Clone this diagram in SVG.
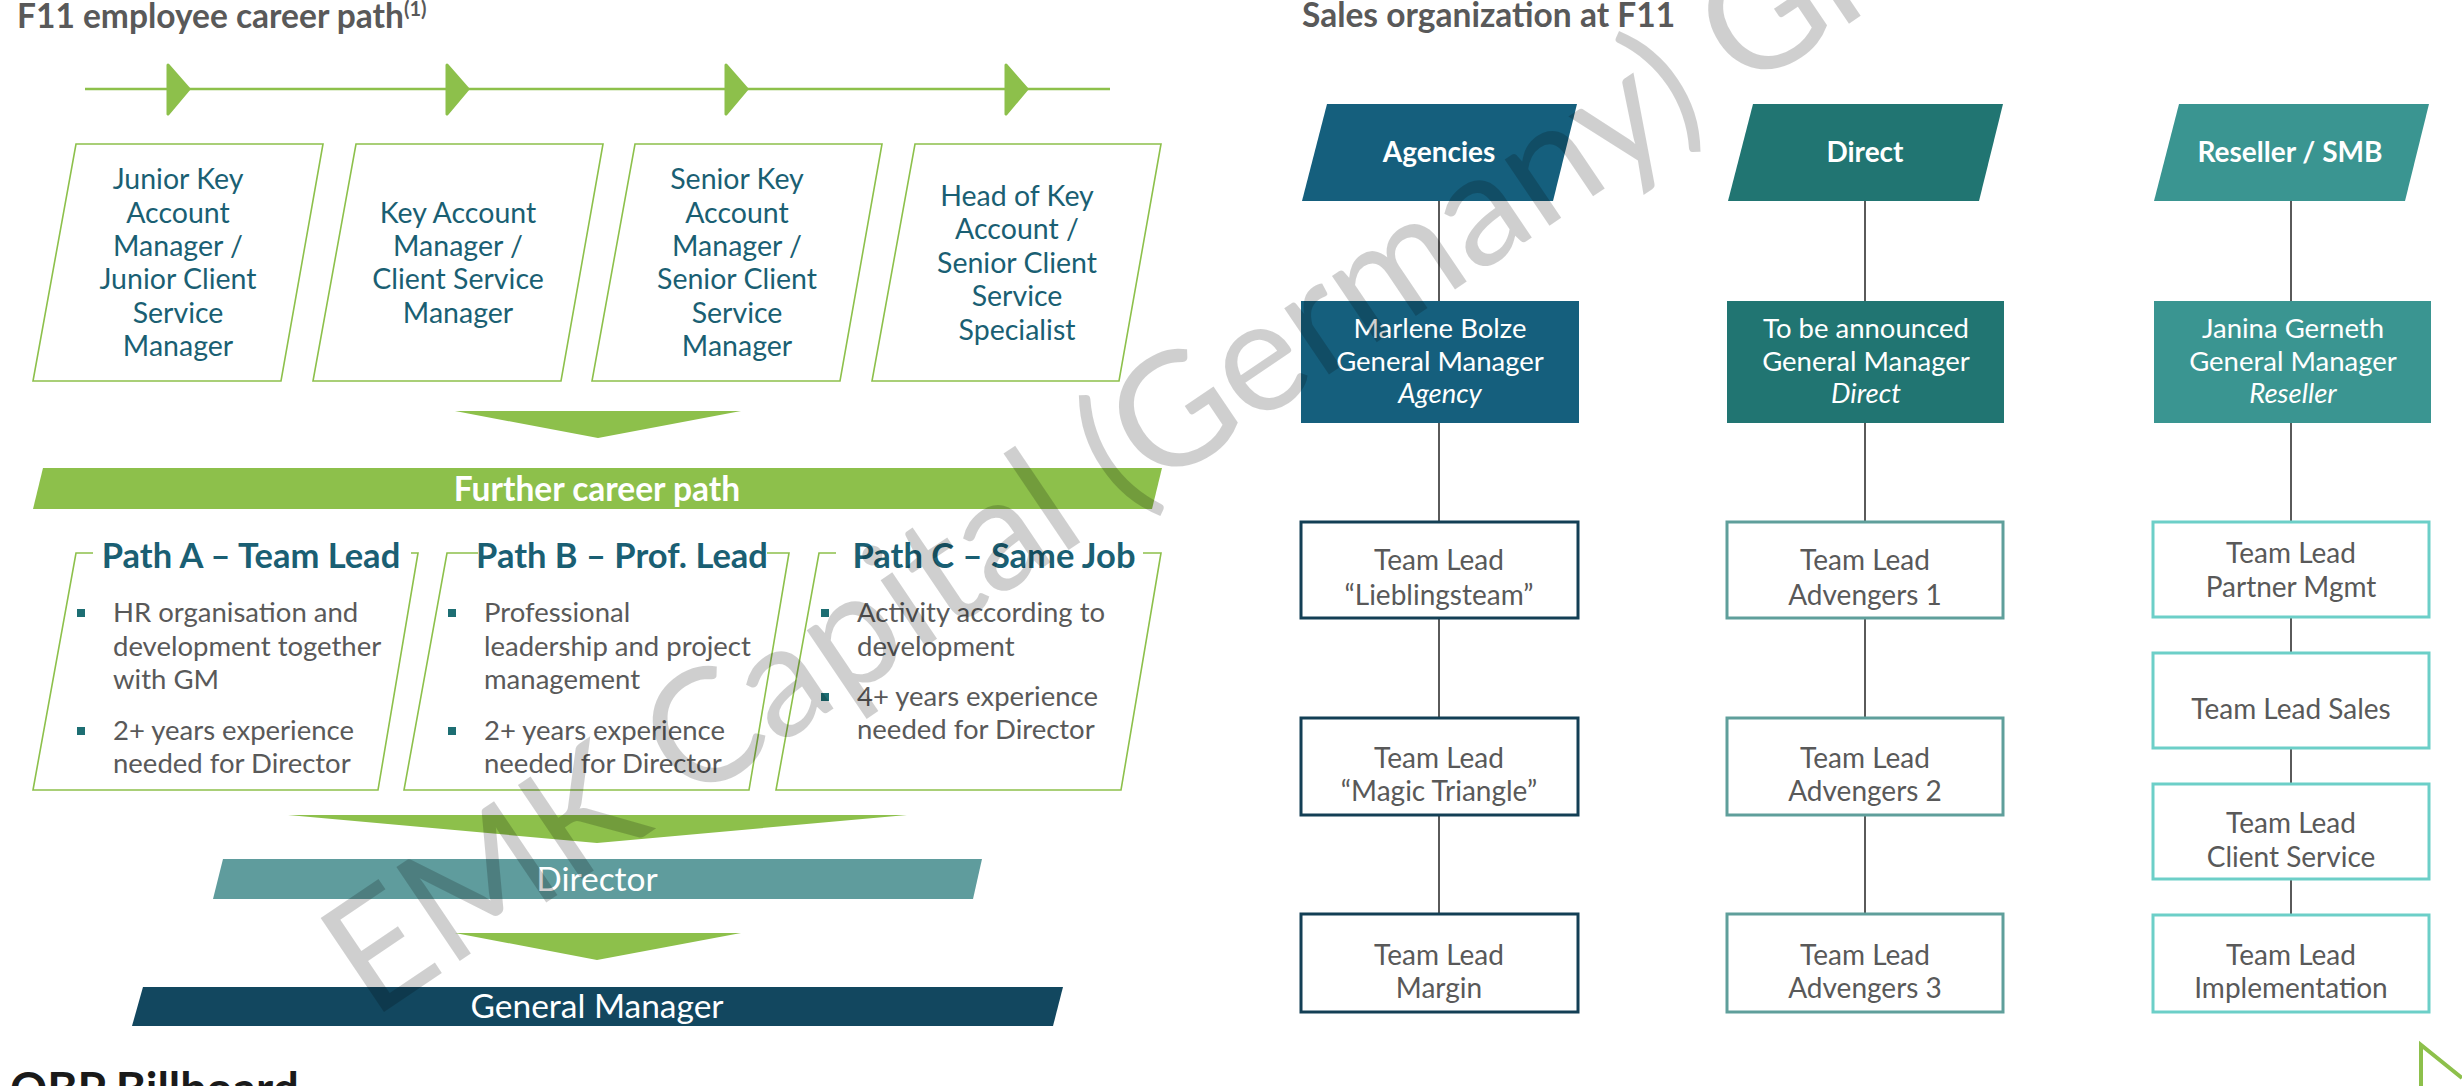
<svg xmlns="http://www.w3.org/2000/svg" width="2462" height="1086" viewBox="0 0 2462 1086">
<style>
text{font-family:Lato,"Open Sans","Liberation Sans",sans-serif}
.title{font-size:33.5px;font-weight:bold;fill:#595959}
.green{fill:#8dc04b}
.arrow{fill:#8dc04b;stroke:#8dc04b;stroke-width:3;stroke-linejoin:round}
.step{fill:#fff;stroke:#8dc04b;stroke-width:1.6}
.steptxt{font-size:28.5px;fill:#1a5f73;text-anchor:middle}
.pathbox{fill:none;stroke:#8dc04b;stroke-width:1.6}
.pathhd{font-size:34.5px;font-weight:bold;fill:#1a5f73;text-anchor:middle}
.bul{fill:#1d6e73}
.bultxt{font-size:27.5px;fill:#595959}
.bantxt{font-size:33.5px;fill:#fff;text-anchor:middle}
.hdtxt{font-size:28px;font-weight:bold;fill:#fff;text-anchor:middle}
.gmtxt{font-size:27.5px;fill:#fff;text-anchor:middle}
.tl{fill:#fff;stroke-width:3}
.tltxt{font-size:28px;fill:#595959;text-anchor:middle}
.conn{stroke:#5a5a5a;stroke-width:2}
</style>

<!-- LEFT: career path -->
<text class="title" x="17" y="28">F11 employee career path<tspan font-size="20" dy="-12">(1)</tspan></text>

<g id="timeline">
  <line x1="85" y1="89" x2="1110" y2="89" stroke="#8dc04b" stroke-width="2.5"/>
  <polygon class="arrow" points="168,65 189,89 168,114"/>
  <polygon class="arrow" points="447,65 468,89 447,114"/>
  <polygon class="arrow" points="726,65 747,89 726,114"/>
  <polygon class="arrow" points="1006,65 1027,89 1006,114"/>
</g>

<g id="step1">
  <polygon class="step" points="76,144 323,144 281,381 33,381"/>
  <text class="steptxt"><tspan x="178" y="189">Junior Key</tspan><tspan x="178" y="223">Account</tspan><tspan x="178" y="256">Manager /</tspan><tspan x="178" y="289">Junior Client</tspan><tspan x="178" y="323">Service</tspan><tspan x="178" y="356">Manager</tspan></text>
</g>
<g id="step2">
  <polygon class="step" points="356,144 603,144 561,381 313,381"/>
  <text class="steptxt"><tspan x="458" y="223">Key Account</tspan><tspan x="458" y="256">Manager /</tspan><tspan x="458" y="289">Client Service</tspan><tspan x="458" y="323">Manager</tspan></text>
</g>
<g id="step3">
  <polygon class="step" points="635,144 882,144 840,381 592,381"/>
  <text class="steptxt"><tspan x="737" y="189">Senior Key</tspan><tspan x="737" y="223">Account</tspan><tspan x="737" y="256">Manager /</tspan><tspan x="737" y="289">Senior Client</tspan><tspan x="737" y="323">Service</tspan><tspan x="737" y="356">Manager</tspan></text>
</g>
<g id="step4">
  <polygon class="step" points="915,144 1161,144 1119,381 872,381"/>
  <text class="steptxt"><tspan x="1017" y="206">Head of Key</tspan><tspan x="1017" y="239">Account /</tspan><tspan x="1017" y="273">Senior Client</tspan><tspan x="1017" y="306">Service</tspan><tspan x="1017" y="340">Specialist</tspan></text>
</g>

<g id="down1"><polygon class="green" points="455,411 741,411 598,438"/></g>

<g id="further">
  <polygon class="green" points="43,468 1162,468 1152,509 33,509"/>
  <text class="bantxt" x="597" y="501" font-weight="bold">Further career path</text>
</g>

<g id="pathA">
  <path class="pathbox" d="M411,553 L418,553 L378,790 L33,790 L76,553 L93,553"/>
  <text class="pathhd" x="251" y="568">Path A – Team Lead</text>
  <rect class="bul" x="77" y="609" width="8" height="8"/>
  <rect class="bul" x="77" y="727" width="8" height="8"/>
  <text class="bultxt"><tspan x="113" y="622">HR organisation and</tspan><tspan x="113" y="656">development together</tspan><tspan x="113" y="689">with GM</tspan><tspan x="113" y="740">2+ years experience</tspan><tspan x="113" y="773">needed for Director</tspan></text>
</g>
<g id="pathB">
  <path class="pathbox" d="M767,553 L789,553 L749,790 L404,790 L447,553 L478,553"/>
  <text class="pathhd" x="622" y="568">Path B – Prof. Lead</text>
  <rect class="bul" x="448" y="609" width="8" height="8"/>
  <rect class="bul" x="448" y="727" width="8" height="8"/>
  <text class="bultxt"><tspan x="484" y="622">Professional</tspan><tspan x="484" y="656">leadership and project</tspan><tspan x="484" y="689">management</tspan><tspan x="484" y="740">2+ years experience</tspan><tspan x="484" y="773">needed for Director</tspan></text>
</g>
<g id="pathC">
  <path class="pathbox" d="M1143,553 L1161,553 L1121,790 L776,790 L819,553 L836,553"/>
  <text class="pathhd" x="994" y="568">Path C – Same Job</text>
  <rect class="bul" x="821" y="609" width="8" height="8"/>
  <rect class="bul" x="821" y="693" width="8" height="8"/>
  <text class="bultxt"><tspan x="857" y="622">Activity according to</tspan><tspan x="857" y="656">development</tspan><tspan x="857" y="706">4+ years experience</tspan><tspan x="857" y="739">needed for Director</tspan></text>
</g>

<g id="down2"><polygon class="green" points="288,815 907,815 597,843"/></g>
<g id="director">
  <polygon fill="#5f9c9d" points="223,859 982,859 973,899 213,899"/>
  <text class="bantxt" x="597" y="891">Director</text>
</g>
<g id="down3"><polygon class="green" points="455,933 741,933 597,960"/></g>
<g id="gm">
  <polygon fill="#12475f" points="143,987 1063,987 1053,1026 132,1026"/>
  <text class="bantxt" x="597" y="1018">General Manager</text>
</g>

<text x="10" y="1105" font-size="46" font-weight="bold" fill="#1a1a1a">OBP Billboard</text>

<!-- RIGHT: sales organization -->
<text class="title" x="1302" y="27">Sales organization at F11</text>

<g id="connectors">
  <line class="conn" x1="1439" y1="200" x2="1439" y2="915"/>
  <line class="conn" x1="1865" y1="200" x2="1865" y2="915"/>
  <line class="conn" x1="2291" y1="200" x2="2291" y2="916"/>
</g>

<g id="hd-agencies">
  <polygon fill="#155f7d" points="1327,104 1577,104 1553,201 1302,201"/>
  <text class="hdtxt" x="1439" y="162">Agencies</text>
</g>
<g id="hd-direct">
  <polygon fill="#217572" points="1753,104 2003,104 1979,201 1728,201"/>
  <text class="hdtxt" x="1865" y="162">Direct</text>
</g>
<g id="hd-reseller">
  <polygon fill="#3a9591" points="2179,104 2429,104 2405,201 2154,201"/>
  <text class="hdtxt" x="2290" y="162">Reseller / SMB</text>
</g>

<g id="gm-agency">
  <rect fill="#155f7d" x="1301" y="301" width="278" height="122"/>
  <text class="gmtxt"><tspan x="1440" y="338">Marlene Bolze</tspan><tspan x="1440" y="371">General Manager</tspan><tspan x="1440" y="403" font-style="italic">Agency</tspan></text>
</g>
<g id="gm-direct">
  <rect fill="#217572" x="1727" y="301" width="277" height="122"/>
  <text class="gmtxt"><tspan x="1866" y="338">To be announced</tspan><tspan x="1866" y="371">General Manager</tspan><tspan x="1866" y="403" font-style="italic">Direct</tspan></text>
</g>
<g id="gm-reseller">
  <rect fill="#3a9591" x="2154" y="301" width="277" height="122"/>
  <text class="gmtxt"><tspan x="2293" y="338">Janina Gerneth</tspan><tspan x="2293" y="371">General Manager</tspan><tspan x="2293" y="403" font-style="italic">Reseller</tspan></text>
</g>

<g id="a1"><rect class="tl" stroke="#133f55" x="1301" y="522" width="277" height="96"/><text class="tltxt"><tspan x="1439" y="570">Team Lead</tspan><tspan x="1439" y="605">“Lieblingsteam”</tspan></text></g>
<g id="a2"><rect class="tl" stroke="#133f55" x="1301" y="718" width="277" height="97"/><text class="tltxt"><tspan x="1439" y="768">Team Lead</tspan><tspan x="1439" y="801">“Magic Triangle”</tspan></text></g>
<g id="a3"><rect class="tl" stroke="#133f55" x="1301" y="914" width="277" height="98"/><text class="tltxt"><tspan x="1439" y="965">Team Lead</tspan><tspan x="1439" y="998">Margin</tspan></text></g>

<g id="d1"><rect class="tl" stroke="#5f9f9b" x="1727" y="522" width="276" height="96"/><text class="tltxt"><tspan x="1865" y="570">Team Lead</tspan><tspan x="1865" y="605">Advengers 1</tspan></text></g>
<g id="d2"><rect class="tl" stroke="#5f9f9b" x="1727" y="718" width="276" height="97"/><text class="tltxt"><tspan x="1865" y="768">Team Lead</tspan><tspan x="1865" y="801">Advengers 2</tspan></text></g>
<g id="d3"><rect class="tl" stroke="#5f9f9b" x="1727" y="914" width="276" height="98"/><text class="tltxt"><tspan x="1865" y="965">Team Lead</tspan><tspan x="1865" y="998">Advengers 3</tspan></text></g>

<g id="r1"><rect class="tl" stroke="#6ccfc8" x="2153" y="522" width="276" height="95"/><text class="tltxt"><tspan x="2291" y="563">Team Lead</tspan><tspan x="2291" y="597">Partner Mgmt</tspan></text></g>
<g id="r2"><rect class="tl" stroke="#6ccfc8" x="2153" y="653" width="276" height="95"/><text class="tltxt"><tspan x="2291" y="719">Team Lead Sales</tspan></text></g>
<g id="r3"><rect class="tl" stroke="#6ccfc8" x="2153" y="784" width="276" height="95"/><text class="tltxt"><tspan x="2291" y="833">Team Lead</tspan><tspan x="2291" y="867">Client Service</tspan></text></g>
<g id="r4"><rect class="tl" stroke="#6ccfc8" x="2153" y="915" width="276" height="97"/><text class="tltxt"><tspan x="2291" y="965">Team Lead</tspan><tspan x="2291" y="998">Implementation</tspan></text></g>

<path d="M2421,1086 V1045 L2462,1078" fill="none" stroke="#8dc04b" stroke-width="4"/>

<text x="0" y="0" transform="translate(372,1020) rotate(-34)" font-size="158" fill="#000" fill-opacity="0.19">EMK Capital (Germany) GmbH</text>
</svg>
